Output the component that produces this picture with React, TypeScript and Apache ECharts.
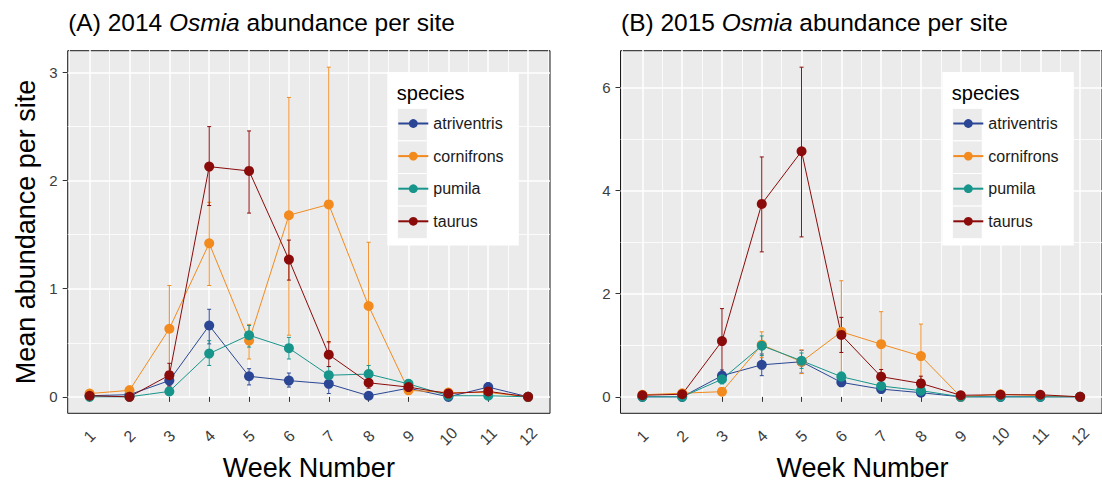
import React, { useEffect, useRef } from "react";
import * as echarts from "echarts";

const FONT = '"Liberation Sans", Arial, sans-serif';

const weeks = [1, 2, 3, 4, 5, 6, 7, 8, 9, 10, 11, 12];
const halfWeeks = [0.5, 1.5, 2.5, 3.5, 4.5, 5.5, 6.5, 7.5, 8.5, 9.5, 10.5, 11.5, 12.5];
const species = ["atriventris", "cornifrons", "pumila", "taurus"];
const speciesColors = ["#2A4694", "#F28A1E", "#17958B", "#8B0A0A"];

// 2014 means and error-bar limits
const atri14 = [0.01, 0.02, 0.15, 0.66, 0.19, 0.15, 0.12, 0.01, 0.08, 0.0, 0.09, 0.0];
const atri14Lo = [0.0, 0.0, 0.1, 0.49, 0.11, 0.09, 0.03, 0.0, 0.05, 0.0, 0.05, 0.0];
const atri14Hi = [0.02, 0.04, 0.21, 0.81, 0.26, 0.22, 0.2, 0.02, 0.11, 0.0, 0.13, 0.0];
const corn14 = [0.03, 0.06, 0.63, 1.42, 0.52, 1.68, 1.78, 0.84, 0.06, 0.04, 0.04, 0.0];
const corn14Lo = [0.01, 0.02, 0.23, 1.03, 0.35, 0.57, 0.5, 0.25, 0.03, 0.02, 0.01, 0.0];
const corn14Hi = [0.05, 0.1, 1.03, 1.8, 0.67, 2.77, 3.05, 1.43, 0.09, 0.06, 0.07, 0.0];
const pum14 = [0.0, 0.0, 0.05, 0.4, 0.57, 0.45, 0.2, 0.21, 0.12, 0.01, 0.01, 0.0];
const pum14Lo = [0.0, 0.0, 0.02, 0.29, 0.46, 0.35, 0.12, 0.12, 0.08, 0.0, 0.0, 0.0];
const pum14Hi = [0.0, 0.0, 0.08, 0.52, 0.66, 0.55, 0.28, 0.29, 0.16, 0.02, 0.02, 0.0];
const taur14 = [0.01, 0.0, 0.2, 2.13, 2.09, 1.27, 0.39, 0.13, 0.09, 0.03, 0.05, 0.0];
const taur14Lo = [0.0, 0.0, 0.1, 1.77, 1.7, 1.08, 0.28, 0.08, 0.06, 0.01, 0.02, 0.0];
const taur14Hi = [0.02, 0.0, 0.31, 2.5, 2.46, 1.45, 0.51, 0.18, 0.12, 0.05, 0.08, 0.0];

// 2015 means and error-bar limits
const atri15 = [0.0, 0.0, 0.41, 0.62, 0.68, 0.28, 0.15, 0.08, 0.0, 0.0, 0.0, 0.0];
const atri15Lo = [0.0, 0.0, 0.3, 0.41, 0.46, 0.2, 0.1, 0.04, 0.0, 0.0, 0.0, 0.0];
const atri15Hi = [0.0, 0.0, 0.52, 0.83, 0.9, 0.36, 0.2, 0.12, 0.0, 0.0, 0.0, 0.0];
const corn15 = [0.04, 0.07, 0.1, 1.01, 0.68, 1.26, 1.02, 0.79, 0.0, 0.05, 0.02, 0.0];
const corn15Lo = [0.01, 0.03, 0.05, 0.76, 0.45, 0.3, 0.4, 0.2, 0.0, 0.02, 0.0, 0.0];
const corn15Hi = [0.07, 0.11, 0.15, 1.26, 0.91, 2.25, 1.65, 1.41, 0.0, 0.08, 0.04, 0.0];
const pum15 = [0.0, 0.0, 0.34, 0.99, 0.7, 0.39, 0.21, 0.12, 0.0, 0.0, 0.0, 0.0];
const pum15Lo = [0.0, 0.0, 0.25, 0.8, 0.55, 0.3, 0.15, 0.08, 0.0, 0.0, 0.0, 0.0];
const pum15Hi = [0.0, 0.0, 0.43, 1.18, 0.85, 0.48, 0.27, 0.16, 0.0, 0.0, 0.0, 0.0];
const taur15 = [0.03, 0.05, 1.08, 3.74, 4.76, 1.2, 0.39, 0.26, 0.03, 0.04, 0.04, 0.0];
const taur15Lo = [0.0, 0.01, 0.47, 2.81, 3.1, 0.86, 0.25, 0.12, 0.0, 0.01, 0.01, 0.0];
const taur15Hi = [0.06, 0.09, 1.71, 4.65, 6.39, 1.54, 0.53, 0.4, 0.06, 0.07, 0.07, 0.0];

const yTicks14 = [0, 1, 2, 3];
const yMinor14 = [0.5, 1.5, 2.5];
const yTicks15 = [0, 2, 4, 6];
const yMinor15 = [1, 3, 5];

const titles = ["(A) 2014 {i|Osmia} abundance per site", "(B) 2015 {i|Osmia} abundance per site"];

const panels = [
  {
    means: [atri14, corn14, pum14, taur14],
    lows: [atri14Lo, corn14Lo, pum14Lo, taur14Lo],
    highs: [atri14Hi, corn14Hi, pum14Hi, taur14Hi],
    yMin: -0.1525,
    yMax: 3.2025,
    yMajor: yTicks14,
    yMinor: yMinor14,
    left: 67.7,
    width: 482.3,
    legendBox: 387.3,
  },
  {
    means: [atri15, corn15, pum15, taur15],
    lows: [atri15Lo, corn15Lo, pum15Lo, taur15Lo],
    highs: [atri15Hi, corn15Hi, pum15Hi, taur15Hi],
    yMin: -0.3195,
    yMax: 6.7095,
    yMajor: yTicks15,
    yMinor: yMinor15,
    left: 620.5,
    width: 484,
    legendBox: 942.3,
  },
];

const TOP = 50.7;
const HEIGHT = 362.6;

function buildOption() {
  const grids: any[] = [];
  const xAxes: any[] = [];
  const yAxes: any[] = [];
  const series: any[] = [];
  const legends: any[] = [];
  const graphics: any[] = [];

  panels.forEach((p, g) => {
    grids.push({
      left: p.left,
      top: TOP,
      width: p.width,
      height: HEIGHT,
      show: true,
      backgroundColor: "#EBEBEB",
      borderColor: "#1a1a1a",
      borderWidth: 1,
      containLabel: false,
    });
    const xBase = { gridIndex: g, type: "value", min: 0.45, max: 12.55, position: "bottom", axisLine: { show: false }, splitLine: { show: false } };
    xAxes.push({
      ...xBase,
      axisTick: { customValues: weeks, length: 5, lineStyle: { color: "#333", width: 1 } },
      axisLabel: {
        customValues: weeks,
        rotate: 45,
        align: "center",
        verticalAlign: "middle",
        margin: 23,
        fontSize: 16,
        color: "#3d3d3d",
        fontFamily: FONT,
      },
    });
    xAxes.push({
      ...xBase,
      axisLabel: { show: false },
      axisTick: { customValues: weeks, inside: true, length: HEIGHT, lineStyle: { color: "#ffffff", width: 1.5 } },
    });
    xAxes.push({
      ...xBase,
      axisLabel: { show: false },
      axisTick: { customValues: halfWeeks, inside: true, length: HEIGHT, lineStyle: { color: "#ffffff", width: 0.8 } },
    });
    const yBase = { gridIndex: g, type: "value", min: p.yMin, max: p.yMax, position: "left", axisLine: { show: false }, splitLine: { show: false } };
    yAxes.push({
      ...yBase,
      axisTick: { customValues: p.yMajor, length: 5, lineStyle: { color: "#333", width: 1 } },
      axisLabel: { customValues: p.yMajor, margin: 10, fontSize: 15, color: "#3d3d3d", fontFamily: FONT },
    });
    yAxes.push({
      ...yBase,
      axisLabel: { show: false },
      axisTick: { customValues: p.yMajor, inside: true, length: p.width, lineStyle: { color: "#ffffff", width: 1.5 } },
    });
    yAxes.push({
      ...yBase,
      axisLabel: { show: false },
      axisTick: { customValues: p.yMinor, inside: true, length: p.width, lineStyle: { color: "#ffffff", width: 0.8 } },
    });

    species.forEach((name, s) => {
      const color = speciesColors[s];
      const barData = weeks
        .map((w, i) => [w, p.lows[s][i], p.highs[s][i]])
        .filter((d) => d[2] - d[1] > 0.001);
      series.push({
        type: "custom",
        name: name + " error",
        xAxisIndex: g * 3,
        yAxisIndex: g * 3,
        z: 2,
        encode: { x: 0, y: [1, 2] },
        data: barData,
        renderItem: (params: any, api: any) => {
          const x = api.value(0);
          const top = api.coord([x, api.value(2)]);
          const bot = api.coord([x, api.value(1)]);
          const hw = 2;
          const st = { stroke: color, lineWidth: 1 };
          return {
            type: "group",
            children: [
              { type: "line", shape: { x1: top[0], y1: top[1], x2: bot[0], y2: bot[1] }, style: st },
              { type: "line", shape: { x1: top[0] - hw, y1: top[1], x2: top[0] + hw, y2: top[1] }, style: st },
              { type: "line", shape: { x1: bot[0] - hw, y1: bot[1], x2: bot[0] + hw, y2: bot[1] }, style: st },
            ],
          };
        },
      });
    });
    species.forEach((name, s) => {
      const color = speciesColors[s];
      series.push({
        type: "line",
        name,
        xAxisIndex: g * 3,
        yAxisIndex: g * 3,
        z: 3,
        data: weeks.map((w, i) => [w, p.means[s][i]]),
        symbol: "circle",
        symbolSize: 10,
        showSymbol: true,
        color,
        itemStyle: { color },
        lineStyle: { color, width: 1 },
        emphasis: { disabled: true },
      });
    });

    // title
    graphics.push({
      type: "text",
      x: p.left + 0.5,
      y: 22.5,
      z: 30,
      style: {
        text: titles[g],
        fontFamily: FONT,
        fontSize: 24.5,
        fill: "#000",
        verticalAlign: "middle",
        rich: { i: { fontStyle: "italic", fontSize: 24.5, fontFamily: FONT, fill: "#000" } },
      },
    });
    // x-axis title
    graphics.push({
      type: "text",
      x: p.left + p.width / 2,
      y: 467.5,
      z: 30,
      style: {
        text: "Week Number",
        fontFamily: FONT,
        fontSize: 27,
        lineHeight: 27,
        fill: "#000",
        align: "center",
        verticalAlign: "middle",
      },
    });

    // legend box
    const lb = p.legendBox;
    graphics.push({
      type: "rect",
      z: 40,
      shape: { x: lb, y: 72, width: 131.5, height: 173.5 },
      style: { fill: "#ffffff" },
    });
    graphics.push({
      type: "text",
      z: 41,
      x: lb + 9.5,
      y: 92.5,
      style: { text: "species", fontFamily: FONT, fontSize: 20, fill: "#000", verticalAlign: "middle" },
    });
    species.forEach((_, s) => {
      graphics.push({
        type: "rect",
        z: 41,
        shape: { x: lb + 10, y: 108.3 + s * 32.6, width: 30, height: 32.6 },
        style: { fill: "#EBEBEB", stroke: "#ffffff", lineWidth: 1 },
      });
    });
    legends.push({
      data: species,
      orient: "vertical",
      left: lb + 10,
      top: 115.5,
      itemWidth: 30,
      itemHeight: 11,
      itemGap: 16.6,
      padding: 0,
      z: 50,
      selectedMode: false,
      textStyle: { fontSize: 16, lineHeight: 16, color: "#1a1a1a", fontFamily: FONT },
    });
  });

  // y-axis title
  graphics.push({
    type: "text",
    x: 26,
    y: TOP + HEIGHT / 2,
    rotation: Math.PI / 2,
    z: 30,
    style: {
      text: "Mean abundance per site",
      fontFamily: FONT,
      fontSize: 27,
      fill: "#000",
      align: "center",
      verticalAlign: "middle",
    },
  });

  return {
    animation: false,
    backgroundColor: "#ffffff",
    textStyle: { fontFamily: FONT },
    grid: grids,
    xAxis: xAxes,
    yAxis: yAxes,
    series,
    legend: legends,
    graphic: graphics,
  };
}

export default function App() {
  const ref = useRef<HTMLDivElement>(null);
  useEffect(() => {
    if (!ref.current) return;
    const chart = echarts.init(ref.current, undefined, { renderer: "svg" });
    chart.setOption(buildOption() as any);
    return () => chart.dispose();
  }, []);
  return (
    <div
      ref={ref}
      style={{ position: "absolute", left: 0, top: 0, width: 1102, height: 482, background: "#fff" }}
    />
  );
}
